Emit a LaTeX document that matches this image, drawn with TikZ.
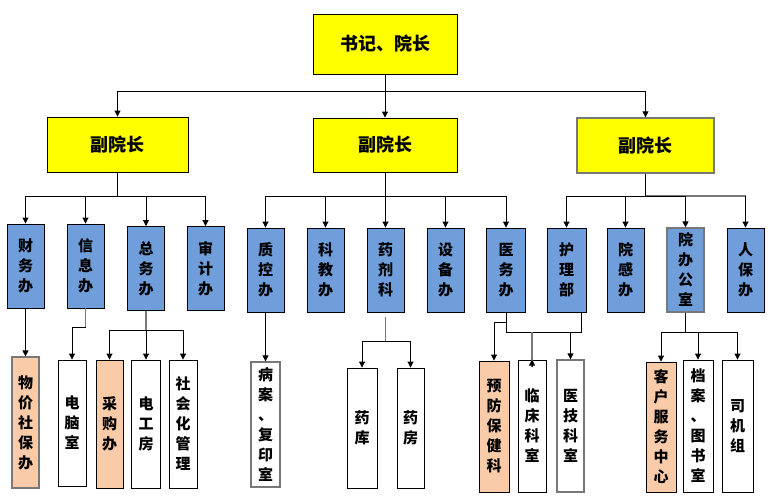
\documentclass[tikz,border=0pt]{standalone}
\usepackage{fontspec}
\newfontfamily\cjk{Noto Sans CJK SC}
\usetikzlibrary{arrows.meta}
\definecolor{boxyellow}{RGB}{255,255,0}
\definecolor{boxblue}{RGB}{112,158,218}
\definecolor{boxorange}{RGB}{249,203,168}
\definecolor{lgrey}{RGB}{120,120,120}
\tikzset{
  x=1pt, y=-1pt,
  base/.style={draw=black, line width=0.9pt, inner sep=0pt, align=center},
  lead/.style={base, fill=boxyellow, font=\cjk\bfseries\fontsize{18}{22}\selectfont},
  dept/.style={base, fill=boxblue, minimum width=37pt, minimum height=84pt, font=\cjk\bfseries\fontsize{15}{20}\selectfont},
  unit/.style={base, fill=white, font=\cjk\bfseries\fontsize{15}{20}\selectfont},
  unito/.style={unit, fill=boxorange},
  conn/.style={draw=black, line width=0.9pt},
  arr/.style={conn, -{Triangle[width=6pt,length=6pt]}},
  gconn/.style={draw=lgrey, line width=1.3pt},
  garr/.style={gconn, -{Triangle[width=6pt,length=6pt]}, arrows={-{Triangle[width=6pt,length=6pt,color=black]}}},
}
\begin{document}
\begin{tikzpicture}
\useasboundingbox[fill=white] (0,0) rectangle (771,498);
% top and vice presidents
\node[lead, minimum width=144pt, minimum height=60pt] (top) at (385,44) {书记、院长};
\node[lead, minimum width=141pt, minimum height=55pt] (vp1) at (117.5,144.5) {副院长};
\node[lead, minimum width=144pt, minimum height=54pt] (vp2) at (385,145) {副院长};
\node[lead, draw=lgrey, line width=1.3pt, minimum width=137pt, minimum height=55pt] (vp3) at (645.5,145.5) {副院长};
% departments
\node[dept] (caiwu) at (25.5,266) {财\\务\\办};
\node[dept] (xinxi) at (85.5,266) {信\\息\\办};
\node[dept] (zongwu) at (146,268.5) {总\\务\\办};
\node[dept] (shenji) at (205.5,268.5) {审\\计\\办};
\node[dept] (zhikong) at (265.5,270) {质\\控\\办};
\node[dept] (kejiao) at (325.5,270) {科\\教\\办};
\node[dept] (yaoji) at (385.5,270) {药\\剂\\科};
\node[dept] (shebei) at (445.5,270) {设\\备\\办};
\node[dept, minimum width=39pt] (yiwu) at (506,270) {医\\务\\办};
\node[dept, minimum width=39pt] (huli) at (566.5,270) {护\\理\\部};
\node[dept] (yuangan) at (625.5,270) {院\\感\\办};
\node[dept, draw=lgrey, line width=1.2pt] (yuanban) at (685.5,270) {院\\办\\公\\室};
\node[dept] (renbao) at (745.5,270) {人\\保\\办};
% units
\node[unito, draw=lgrey, line width=1.2pt, minimum width=27pt, minimum height=131pt] (wujia) at (25.5,422.5) {物\\价\\社\\保\\办};
\node[unit, minimum width=28pt, minimum height=126pt] (diannao) at (72,423) {电\\脑\\室};
\node[unito, minimum width=27pt, minimum height=128pt] (caigou) at (109.5,424) {采\\购\\办};
\node[unit, minimum width=29pt, minimum height=128pt] (diangong) at (146,424) {电\\工\\房};
\node[unit, minimum width=28pt, minimum height=128pt] (shehui) at (183,424) {社\\会\\化\\管\\理};
\node[unit, draw=lgrey, line width=1.3pt, minimum width=29pt, minimum height=125pt] (bingan) at (265.5,424.5) {病\\案\\、\\复\\印\\室};
\node[unit, minimum width=30pt, minimum height=120pt] (yaoku) at (362,428) {药\\库};
\node[unit, minimum width=27pt, minimum height=120pt] (yaofang) at (410.5,428) {药\\房};
\node[unito, minimum width=30pt, minimum height=131pt] (yufang) at (494,426.5) {预\\防\\保\\健\\科};
\node[unit, minimum width=28pt, minimum height=132pt] (linchuang) at (532,426) {临\\床\\科\\室};
\node[unit, draw=lgrey, line width=1.3pt, minimum width=27pt, minimum height=132pt] (yiji) at (570.5,426) {医\\技\\科\\室};
\node[unito, minimum width=30pt, minimum height=130pt] (kehu) at (661,427) {客\\户\\服\\务\\中\\心};
\node[unit, minimum width=30pt, minimum height=132pt] (dangan) at (698,426) {档\\案\\、\\图\\书\\室};
\node[unit, minimum width=31pt, minimum height=132pt] (siji) at (737.5,426) {司\\机\\组};
% junctions
\coordinate (j0) at (385,91);
\coordinate (j1) at (117.5,196);
\coordinate (j2) at (385,196);
\coordinate (j3) at (645.5,196);
\coordinate (k1) at (85.5,327);
\coordinate (k2) at (146,330);
\coordinate (k3) at (385.5,341);
\coordinate (m1) at (506,322);
\coordinate (m2) at (506,332);
\coordinate (m3) at (581,332);
\coordinate (k4) at (685.5,332);
% level 1 -> 2
\draw[conn] (top) -- (j0);
\draw[arr] (j0) -| (vp1.north);
\draw[arr] (j0) -- (vp2.north);
\draw[arr] (j0) -| (vp3.north);
% level 2 -> 3
\draw[conn] (vp1) -- (j1);
\foreach \n in {caiwu,xinxi,zongwu,shenji} \draw[arr] (j1) -| (\n.north);
\draw[conn] (vp2) -- (j2);
\foreach \n in {zhikong,kejiao,yaoji,shebei,yiwu} \draw[arr] (j2) -| (\n.north);
\draw[conn] (vp3) -- (j3);
\foreach \n in {huli,yuangan} \draw[arr] (j3) -| (\n.north);
\draw[gconn] (j3) -- (renbao.north |- j3);
\draw[arr] (j3) -| (yuanban.north);
\draw[arr] (renbao.north |- j3) -- (renbao.north);
% level 3 -> 4
\draw[arr] (caiwu) -- (wujia);
\draw[gconn] (xinxi) -- (k1);
\draw[arr] (k1) -| (diannao.north);
\draw[gconn] (zongwu) -- (k2);
\draw[conn] (k2) -- (caigou.north |- k2);
\draw[conn] (k2) -- (shehui.north |- k2);
\foreach \n in {caigou,diangong,shehui} \draw[arr] (\n.north |- k2) -- (\n.north);
\draw[arr] (zhikong) -- (bingan);
\draw[gconn] (yaoji.south) ++(0,5) -- (k3);
\foreach \n in {yaoku,yaofang} \draw[arr] (k3) -| (\n.north);
\draw[arr] (yiwu.south) -- (m1) -| (yufang.north);
\draw[conn] (m1) -- (m2) -- (m3) -- (m3 |- huli.south);
\draw[gconn] (linchuang.north |- m2) -- ([yshift=-7pt]linchuang.north);
\draw[arr] ([yshift=-7pt]linchuang.north) -- (linchuang.north);
\draw[arr] (yiji.north |- m2) -- (yiji.north);
\draw[conn] (yuanban) -- (k4);
\foreach \n in {kehu,dangan,siji} \draw[arr] (k4) -| (\n.north);
\end{tikzpicture}
\end{document}
